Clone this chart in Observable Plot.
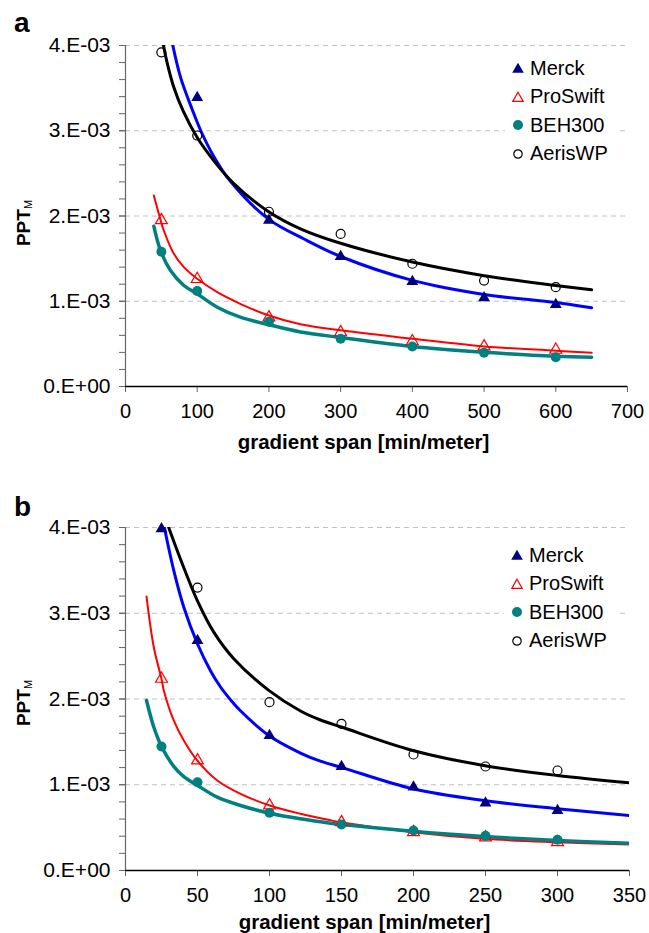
<!DOCTYPE html>
<html><head><meta charset="utf-8">
<script src="https://cdn.jsdelivr.net/npm/d3@7"></script>
<script src="https://cdn.jsdelivr.net/npm/@observablehq/plot@0.6"></script>
<style>
body{margin:0;background:#fff;font-family:"Liberation Sans",Arial,sans-serif;}
#wrap{position:relative;width:649px;height:933px;overflow:hidden;}
.panel{position:absolute;left:0;}
.lbl{position:absolute;font-weight:bold;font-size:28px;line-height:28px;color:#000;}
.legend{position:absolute;background:#fff;width:112px;padding-top:2px;}
.row{display:flex;align-items:center;height:28.5px;font-size:20px;color:#000;}
.row svg{margin-left:7px;margin-right:6px;flex:none;}
</style>
</head><body>
<div id="wrap"></div>
<script>
// ---------- DATA (PPT_M values in units of 1e-3) ----------
const seriesNames = ["Merck", "ProSwift", "BEH300", "AerisWP"];
const yTicks = [0, 0.001, 0.002, 0.003, 0.004];
const yTickLabels = ["0.E+00", "1.E-03", "2.E-03", "3.E-03", "4.E-03"];
const xTicksA = [0, 100, 200, 300, 400, 500, 600, 700];
const xTicksB = [0, 50, 100, 150, 200, 250, 300, 350];
const xTitle = "gradient span [min/meter]";

// Panel a measured points
const xA = [50, 100, 200, 300, 400, 500, 600];
const merckXA = [100, 200, 300, 400, 500, 600];
const merckA = [3.39, 1.95, 1.525, 1.23, 1.04, 0.96];
const proswiftA = [1.95, 1.26, 0.81, 0.637, 0.53, 0.47, 0.43];
const beh300A = [1.58, 1.12, 0.76, 0.56, 0.47, 0.395, 0.344];
const aerisA = [3.92, 2.944, 2.05, 1.79, 1.44, 1.243, 1.165];

// Panel a fitted curves [x, y]
const merckCurveA = [[66,4.00],[77,3.62],[93,3.25],[105,3.00],[123,2.70],[146,2.41],[200,1.96],[249,1.73],[300,1.525],[400,1.245],[500,1.08],[600,0.985],[650,0.923]];
const proswiftCurveA = [[39.5,2.24],[49,1.95],[53.4,1.83],[67.4,1.557],[81.4,1.40],[100,1.263],[128,1.106],[160,0.97],[200,0.833],[244,0.73],[300,0.66],[400,0.56],[500,0.47],[600,0.42],[650,0.395]];
const beh300CurveA = [[39.5,1.88],[48.8,1.595],[62.8,1.36],[81.4,1.185],[100,1.087],[128,0.93],[160,0.813],[200,0.725],[244,0.64],[300,0.575],[400,0.469],[500,0.402],[600,0.355],[650,0.344]];
const aerisCurveA = [[53,4.00],[58,3.80],[67,3.52],[81,3.22],[100,2.92],[123,2.65],[151,2.38],[198,2.06],[244,1.85],[300,1.68],[400,1.46],[500,1.30],[600,1.185],[650,1.134]];

// Panel b measured points
const xB = [25, 50, 100, 150, 200, 250, 300];
const aerisXB = [50, 100, 150, 200, 250, 300];
const merckB = [3.985, 2.68, 1.574, 1.213, 0.972, 0.785, 0.70];
const proswiftB = [2.235, 1.283, 0.758, 0.563, 0.447, 0.385, 0.33];
const beh300B = [1.446, 1.03, 0.673, 0.536, 0.466, 0.404, 0.358];
const aerisB = [3.30, 1.963, 1.71, 1.353, 1.213, 1.166];

// Panel b fitted curves
const merckCurveB = [[27,4.00],[33.5,3.50],[40.5,3.07],[49.8,2.65],[59,2.33],[66,2.14],[73,1.99],[80,1.86],[99.5,1.574],[121.5,1.37],[135.4,1.275],[150.5,1.20],[199.5,0.953],[248.8,0.816],[299.8,0.72],[350,0.641]];
const proswiftCurveB = [[14.6,3.195],[19.7,2.60],[25,2.235],[26.6,2.10],[33.5,1.75],[40.5,1.516],[49.8,1.283],[63.7,1.05],[79.9,0.894],[100.2,0.758],[121.5,0.661],[142.4,0.585],[150.5,0.56],[199.5,0.447],[248.8,0.37],[299.8,0.33],[350,0.303]];
const beh300CurveB = [[14.6,1.983],[19.7,1.67],[25,1.446],[33.5,1.215],[40.5,1.095],[49.8,0.995],[63.7,0.855],[79.9,0.758],[100.2,0.668],[121.5,0.603],[142.4,0.552],[150.5,0.536],[199.5,0.458],[248.8,0.397],[299.8,0.35],[350,0.318]];
const aerisCurveB = [[30,4.00],[38.2,3.63],[49.8,3.15],[61.3,2.78],[75.2,2.47],[99.5,2.10],[121.5,1.86],[135.4,1.755],[150.5,1.67],[199.5,1.40],[248.8,1.225],[299.8,1.108],[350,1.023]];

// ---------- helpers ----------
const E3 = 1e-3;
const pts = (xs, ys) => xs.map((x, i) => ({x, y: ys[i] * E3}));
const crv = (arr) => arr.map(([x, y]) => ({x, y: y * E3}));
const yLabelMap = new Map(yTicks.map((t, i) => [t, yTickLabels[i]]));
const yMinor = d3.range(0, 0.00401, 0.0002);

const style = {
  merck: {line: "#0000ff", w: 3, mark: "#000080"},
  proswift: {line: "#ff0000", w: 2},
  beh: {line: "#008080", w: 3.5},
  aeris: {line: "#000000", w: 3}
};

function makePanel(cfg) {
  const svg = Plot.plot({
    width: 649,
    height: cfg.height,
    marginLeft: 125,
    marginRight: cfg.mr,
    marginTop: cfg.mt,
    marginBottom: cfg.mb,
    style: {fontFamily: "'Liberation Sans', Arial, sans-serif", fontSize: "20px", color: "#000", background: "#fff", overflow: "visible"},
    x: {domain: cfg.xDomain, axis: null, label: null},
    y: {domain: [0, 0.004], axis: null, label: null},
    marks: [
      Plot.ruleY(yTicks.slice(1), {stroke: "#c0c0c0", strokeDasharray: "5,4", strokeWidth: 1}),
      Plot.axisY(yMinor, {tickSize: 6, tickFormat: () => "", stroke: "#666", label: null}),
      Plot.axisY(yTicks, {tickSize: 6, tickPadding: 9, tickFormat: d => yLabelMap.get(d), stroke: "#666", fill: "#000", fontSize: 21, label: null}),
      Plot.axisX(cfg.xTicks, {tickSize: 6, tickPadding: 11, stroke: "#666", fill: "#000", fontSize: 20, tickFormat: d => String(d), label: null}),
      Plot.ruleX([0], {stroke: "#666", strokeWidth: 1.2}),
      Plot.ruleY([0], {stroke: "#000", strokeWidth: 1.3}),
      Plot.text([xTitle], {frameAnchor: "bottom", dx: -13, dy: cfg.titleDy, lineAnchor: "middle", fontWeight: "bold", fontSize: 20.5, fill: "#000"}),
      Plot.line(crv(cfg.curves.proswift), {x: "x", y: "y", stroke: style.proswift.line, strokeWidth: style.proswift.w, curve: "catmull-rom", clip: true}),
      Plot.line(crv(cfg.curves.beh), {x: "x", y: "y", stroke: style.beh.line, strokeWidth: style.beh.w, curve: "catmull-rom", clip: true}),
      Plot.line(crv(cfg.curves.merck), {x: "x", y: "y", stroke: style.merck.line, strokeWidth: style.merck.w, curve: "catmull-rom", clip: true}),
      Plot.line(crv(cfg.curves.aeris), {x: "x", y: "y", stroke: style.aeris.line, strokeWidth: style.aeris.w, curve: "catmull-rom", clip: true}),
      Plot.dot(cfg.points.merck, {x: "x", y: "y", symbol: "triangle", r: 4.4, fill: style.merck.mark, stroke: "none"}),
      Plot.dot(cfg.points.proswift, {x: "x", y: "y", symbol: "triangle", r: 4.4, fill: "none", stroke: "#ff0000", strokeWidth: 1.2}),
      Plot.dot(cfg.points.beh, {x: "x", y: "y", symbol: "circle", r: 5, fill: "#008080", stroke: "none"}),
      Plot.dot(cfg.points.aeris, {x: "x", y: "y", symbol: "circle", r: 4.5, fill: "none", stroke: "#000", strokeWidth: 1.2})
    ]
  });
  // y axis title with subscript
  const t = d3.select(svg).append("text")
    .attr("transform", `translate(30,${cfg.yTitleY}) rotate(-90)`)
    .attr("text-anchor", "middle")
    .attr("font-family", "'Liberation Sans', Arial, sans-serif")
    .attr("fill", "#000");
  t.append("tspan").attr("font-weight", "bold").attr("font-size", 19).text("PPT");
  t.append("tspan").attr("font-size", 11).attr("dy", 2).text("M");
  return svg;
}

function legendHTML() {
  const syms = [
    '<svg width="12" height="12" viewBox="-6 -6 12 12"><path d="M0,-5.2L5.8,4.8L-5.8,4.8Z" fill="#000080"/></svg>',
    '<svg width="12" height="12" viewBox="-6 -6 12 12"><path d="M0,-4.8L5.2,4.4L-5.2,4.4Z" fill="none" stroke="#ff0000" stroke-width="1.2"/></svg>',
    '<svg width="12" height="12" viewBox="-6 -6 12 12"><circle r="5" fill="#008080"/></svg>',
    '<svg width="12" height="12" viewBox="-6 -6 12 12"><circle r="4.2" fill="none" stroke="#000" stroke-width="1.2"/></svg>'
  ];
  return seriesNames.map((n, i) => `<div class="row">${syms[i]}<span>${n}</span></div>`).join("");
}

const wrap = document.getElementById("wrap");

// Panel a
const pa = document.createElement("div");
pa.className = "panel"; pa.style.top = "0px";
pa.appendChild(makePanel({
  height: 466, mt: 45, mb: 80, mr: 22, xDomain: [0, 700], xTicks: xTicksA, titleDy: 56, yTitleY: 223,
  points: {merck: pts(merckXA, merckA), proswift: pts(xA, proswiftA), beh: pts(xA, beh300A), aeris: pts(xA, aerisA)},
  curves: {merck: merckCurveA, proswift: proswiftCurveA, beh: beh300CurveA, aeris: aerisCurveA}
}));
const la = document.createElement("div");
la.className = "legend"; la.style.left = "505px"; la.style.top = "52px";
la.innerHTML = legendHTML();
pa.appendChild(la);
const ta = document.createElement("div");
ta.className = "lbl"; ta.style.left = "14px"; ta.style.top = "9px"; ta.textContent = "a";
pa.appendChild(ta);
wrap.appendChild(pa);

// Panel b
const pb = document.createElement("div");
pb.className = "panel"; pb.style.top = "466px";
pb.appendChild(makePanel({
  height: 467, mt: 61, mb: 63, mr: 20, xDomain: [0, 350], xTicks: xTicksB, titleDy: 52, yTitleY: 237,
  points: {merck: pts(xB, merckB), proswift: pts(xB, proswiftB), beh: pts(xB, beh300B), aeris: pts(aerisXB, aerisB)},
  curves: {merck: merckCurveB, proswift: proswiftCurveB, beh: beh300CurveB, aeris: aerisCurveB}
}));
const lb = document.createElement("div");
lb.className = "legend"; lb.style.left = "504px"; lb.style.top = "73px";
lb.innerHTML = legendHTML();
pb.appendChild(lb);
const tb = document.createElement("div");
tb.className = "lbl"; tb.style.left = "14px"; tb.style.top = "27px"; tb.textContent = "b";
pb.appendChild(tb);
wrap.appendChild(pb);
</script>
</body></html>
